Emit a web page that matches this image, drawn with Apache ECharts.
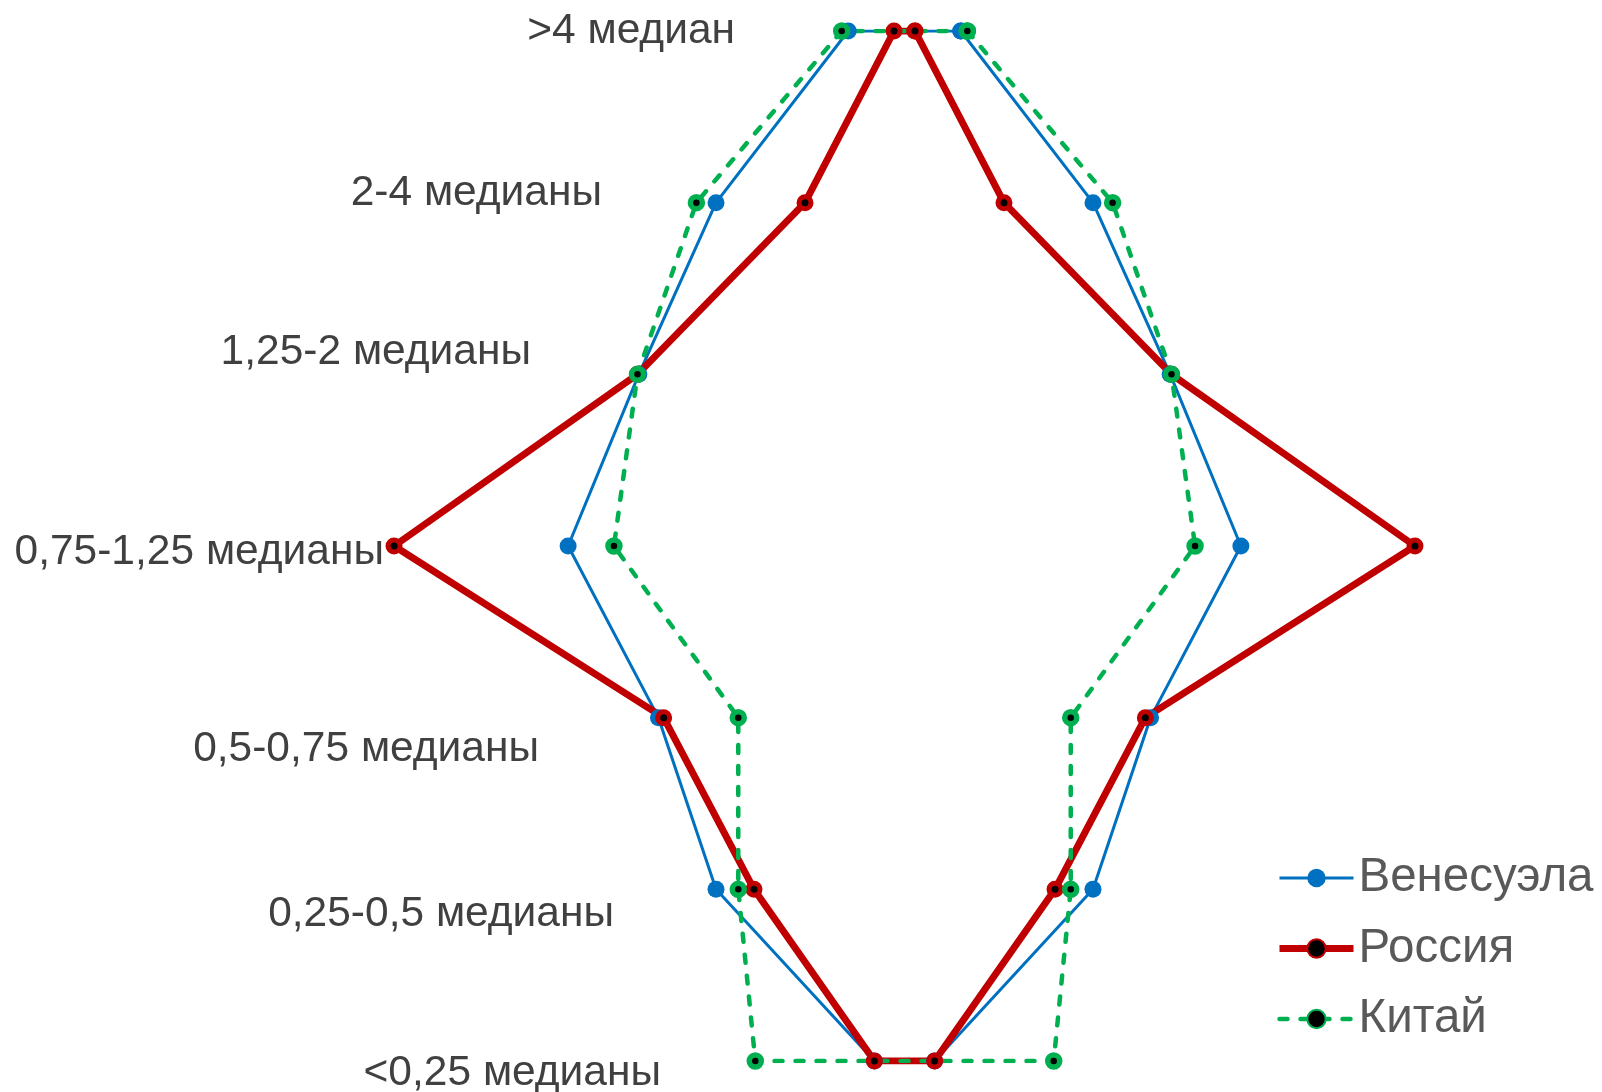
<!DOCTYPE html>
<html>
<head>
<meta charset="utf-8">
<script src="https://cdn.jsdelivr.net/npm/echarts@6/dist/echarts.min.js"></script>
<style>
html,body{margin:0;padding:0;background:#fff;}
#chart{width:1602px;height:1092px;}
</style>
</head>
<body>
<div id="chart"></div>
<script>
// Income groups (top to bottom), share of population, %
const categories = ['>4 медиан', '2-4 медианы', '1,25-2 медианы', '0,75-1,25 медианы', '0,5-0,75 медианы', '0,25-0,5 медианы', '<0,25 медианы'];
const venezuela = [4.3, 14.4, 20.3, 25.7, 18.8, 14.4, 2.3];
const russia    = [0.8, 7.6, 20.4, 39.0, 18.4, 11.5, 2.3];
const china     = [4.8, 15.9, 20.4, 22.2, 12.7, 12.7, 11.4];
const seriesNames = ['Венесуэла', 'Россия', 'Китай'];

// label layout (style only): [right padding, vertical shift]
const labelLayout = [[5, 0], [138, -9], [209, -22], [356, 6], [201, 32], [126, 25], [79, 12]];

const FONT = 'Arial, "Liberation Sans", sans-serif';

function loop(vals) {
  const pts = [];
  for (let i = 0; i < vals.length; i++) pts.push([vals[i], categories[i]]);
  for (let i = vals.length - 1; i >= 0; i--) pts.push([-vals[i], categories[i]]);
  pts.push([vals[0], categories[0]]);
  return pts;
}

const rich = {};
labelLayout.forEach((l, i) => {
  const dy = l[1];
  rich['l' + i] = {
    fontSize: 42.5, fontFamily: FONT, color: '#404040',
    padding: [dy > 0 ? 2 * dy : 0, l[0], dy < 0 ? -2 * dy : 0, 0]
  };
});

const gridLeft = 315.5;
const anchorX = 740;

const chart = echarts.init(document.getElementById('chart'), null, {renderer: 'canvas'});
chart.setOption({
  animation: false,
  backgroundColor: '#ffffff',
  grid: {left: gridLeft, right: 108.5, top: 31, bottom: 31, containLabel: false, outerBoundsMode: 'none'},
  xAxis: {
    type: 'value', min: -45, max: 45, show: false
  },
  yAxis: {
    type: 'category', data: categories, inverse: true, boundaryGap: false,
    offset: -(anchorX - gridLeft),
    axisLine: {show: false}, axisTick: {show: false}, splitLine: {show: false},
    axisLabel: {
      margin: 0, interval: 0, hideOverlap: false,
      formatter: (v, i) => '{l' + i + '|' + v + '}',
      rich: rich
    }
  },
  legend: {
    orient: 'vertical', left: 1271, top: 849, itemWidth: 74, itemHeight: 23, itemGap: 22.5,
    textStyle: {fontSize: 47.5, fontFamily: FONT, color: '#595959'},
    lineStyle: {width: 'inherit'},
    data: seriesNames
  },
  series: [
    {
      name: seriesNames[0], type: 'line', data: loop(venezuela), clip: false,
      symbol: 'circle', symbolSize: 17,
      lineStyle: {color: '#0070C0', width: 3},
      itemStyle: {color: '#0070C0'}
    },
    {
      name: seriesNames[1], type: 'line', data: loop(russia), clip: false,
      symbol: 'circle', symbolSize: 12,
      lineStyle: {color: '#C00000', width: 7, join: 'round'},
      itemStyle: {color: '#000000', borderColor: '#C00000', borderWidth: 5}
    },
    {
      name: seriesNames[2], type: 'line', data: loop(china), clip: false,
      symbol: 'circle', symbolSize: 12,
      lineStyle: {color: '#00B050', width: 4.5, type: [8, 13], cap: 'round'},
      itemStyle: {color: '#000000', borderColor: '#00B050', borderWidth: 5.5}
    }
  ]
});
</script>
</body>
</html>
